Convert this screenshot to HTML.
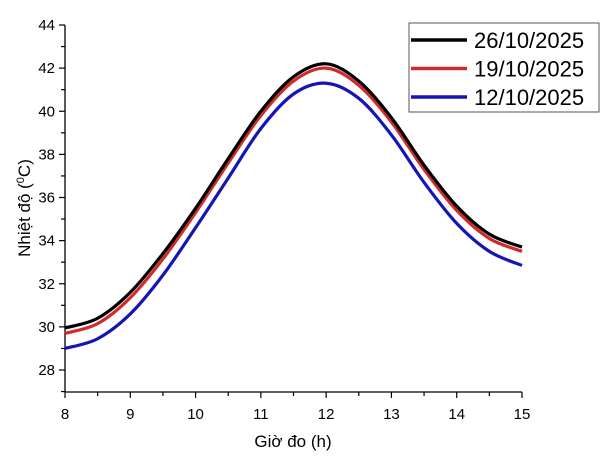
<!DOCTYPE html>
<html><head><meta charset="utf-8"><style>
body{margin:0;background:#fff;}
svg{display:block;font-family:"Liberation Sans",Arial,sans-serif;}
</style></head><body>
<svg id="c" width="602" height="471" viewBox="0 0 602 471"></svg>
<script>
const hours=[8,8.5,9,9.5,10,10.5,11,11.5,12,12.5,13,13.5,14,14.5,15];
const s26=[29.95,30.4,31.6,33.4,35.5,37.8,40.0,41.6,42.2,41.4,39.7,37.5,35.6,34.3,33.7];
const s19=[29.7,30.15,31.35,33.15,35.3,37.6,39.8,41.4,42.0,41.2,39.5,37.3,35.4,34.1,33.5];
const s12=[29.0,29.45,30.6,32.4,34.6,36.9,39.2,40.8,41.3,40.6,38.9,36.7,34.8,33.5,32.85];
const xTicks=[8,9,10,11,12,13,14,15];
const yTicks=[28,30,32,34,36,38,40,42,44];
const labels=["26/10/2025","19/10/2025","12/10/2025"];
const NS="http://www.w3.org/2000/svg";
const svg=document.getElementById('c');
const X=v=>65+(v-8)*(522-65)/7;
const Y=v=>370-(v-28)*(370-25)/16;
function el(t,a,p){const e=document.createElementNS(NS,t);for(const k in a)e.setAttribute(k,a[k]);(p||svg).appendChild(e);return e;}
let ax=el('line',{x1:65,y1:Y(44),x2:65,y2:392,stroke:'#000','stroke-width':1.3});


let bx=el('line',{x1:65,y1:392,x2:522,y2:392,stroke:'#000','stroke-width':1.3});


for(let v=8;v<=15.001;v+=0.5){const x=X(v);el('line',{x1:x,y1:392,x2:x,y2:v%1===0?398:396,stroke:'#000','stroke-width':1.2});}
for(let v=27;v<=44.001;v+=1){const y=Y(v);el('line',{x1:65,y1:y,x2:v%2===0?59:61,y2:y,stroke:'#000','stroke-width':1.2});}
xTicks.forEach(v=>{const t=el('text',{x:X(v),y:419,'text-anchor':'middle','font-size':15});t.textContent=v;

});
yTicks.forEach(v=>{const t=el('text',{x:55,y:Y(v)+5,'text-anchor':'end','font-size':15});t.textContent=v;

});
let xt=el('text',{x:293,y:447,'text-anchor':'middle','font-size':17});xt.textContent='Giờ đo (h)';


let yt=el('text',{x:0,y:0,'text-anchor':'middle','font-size':17,transform:'translate(30,208) rotate(-90)'});
yt.innerHTML='Nhiệt độ (<tspan dy="-6" font-size="11">0</tspan><tspan dy="6">C)</tspan>';


function path(vals){const p=hours.map((h,i)=>[X(h),Y(vals[i])]);let d='M'+p[0][0]+','+p[0][1];
for(let i=0;i<p.length-1;i++){const p0=p[Math.max(0,i-1)],p1=p[i],p2=p[i+1],p3=p[Math.min(p.length-1,i+2)];
d+=` C${p1[0]+(p2[0]-p0[0])/6},${p1[1]+(p2[1]-p0[1])/6} ${p2[0]-(p3[0]-p1[0])/6},${p2[1]-(p3[1]-p1[1])/6} ${p2[0]},${p2[1]}`;}return d;}
const series=[[s12,'#1515b5','series-12-10-2025'],[s19,'#d22a2a','series-19-10-2025'],[s26,'#000','series-26-10-2025']];
series.forEach(s=>{const p=el('path',{d:path(s[0]),fill:'none',stroke:s[1],'stroke-width':3.2});

});
const lg=el('g',{});


el('rect',{x:409,y:23,width:190,height:89,fill:'#fff',stroke:'#555','stroke-width':1},lg);
const lc=['#000','#d22a2a','#1515b5'];
labels.forEach((l,i)=>{const y=40+i*28.5;
el('line',{x1:411,y1:y,x2:467,y2:y,stroke:lc[i],'stroke-width':3.5},lg);
const t=el('text',{x:474,y:y+8,'font-size':22},lg);t.textContent=l;

});
</script>
</body></html>
